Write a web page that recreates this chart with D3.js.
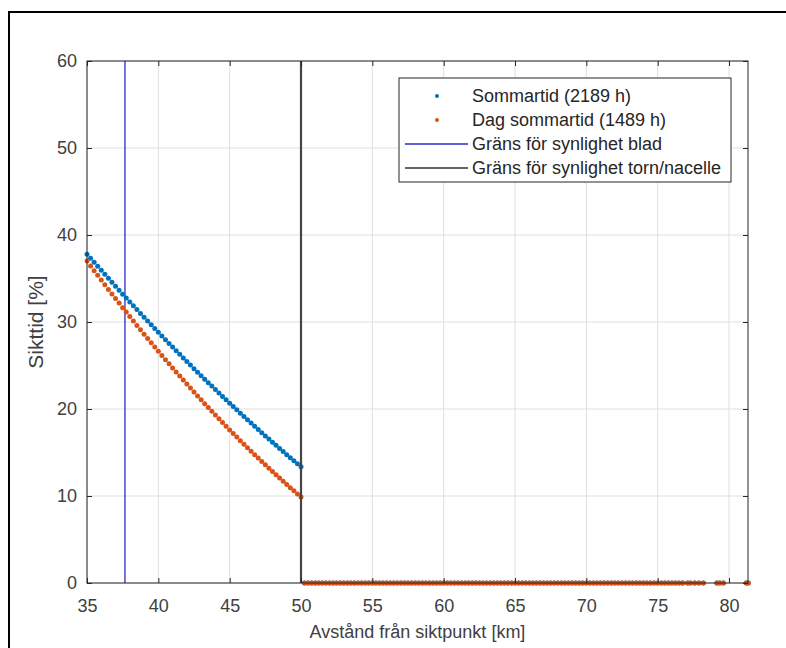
<!DOCTYPE html>
<html><head><meta charset="utf-8">
<script src="https://cdn.jsdelivr.net/npm/d3@7"></script>
<style>body{margin:0;background:#fff}svg{display:block}text{font-family:"Liberation Sans",Arial,sans-serif}</style>
</head><body><svg id="c" width="786" height="648"></svg>
<script>
const xTicks=[35,40,45,50,55,60,65,70,75,80];
const yTicks=[0,10,20,30,40,50,60];
const dist=[35,35.25,35.5,35.75,36,36.25,36.5,36.75,37,37.25,37.5,37.75,38,38.25,38.5,38.75,39,39.25,39.5,39.75,40,40.25,40.5,40.75,41,41.25,41.5,41.75,42,42.25,42.5,42.75,43,43.25,43.5,43.75,44,44.25,44.5,44.75,45,45.25,45.5,45.75,46,46.25,46.5,46.75,47,47.25,47.5,47.75,48,48.25,48.5,48.75,49,49.25,49.5,49.75,50];
const sommartid=[37.80,37.33,36.86,36.40,35.94,35.48,35.02,34.56,34.11,33.66,33.20,32.76,32.31,31.87,31.43,30.99,30.55,30.11,29.68,29.25,28.82,28.39,27.97,27.54,27.12,26.70,26.29,25.87,25.46,25.05,24.64,24.23,23.83,23.43,23.03,22.63,22.23,21.84,21.45,21.06,20.67,20.29,19.90,19.52,19.14,18.76,18.39,18.02,17.65,17.28,16.91,16.54,16.18,15.82,15.46,15.11,14.75,14.40,14.05,13.70,13.36];
const dagSommartid=[37.00,36.45,35.90,35.36,34.82,34.29,33.75,33.22,32.70,32.17,31.65,31.14,30.62,30.11,29.61,29.10,28.60,28.11,27.61,27.12,26.64,26.15,25.67,25.20,24.72,24.25,23.79,23.32,22.86,22.41,21.95,21.50,21.06,20.61,20.17,19.74,19.30,18.87,18.44,18.02,17.60,17.18,16.77,16.36,15.95,15.55,15.15,14.75,14.36,13.97,13.58,13.19,12.81,12.44,12.06,11.69,11.32,10.96,10.60,10.24,9.89];
const tailDist=[50.25,50.5,50.75,51,51.25,51.5,51.75,52,52.25,52.5,52.75,53,53.25,53.5,53.75,54,54.25,54.5,54.75,55,55.25,55.5,55.75,56,56.25,56.5,56.75,57,57.25,57.5,57.75,58,58.25,58.5,58.75,59,59.25,59.5,59.75,60,60.25,60.5,60.75,61,61.25,61.5,61.75,62,62.25,62.5,62.75,63,63.25,63.5,63.75,64,64.25,64.5,64.75,65,65.25,65.5,65.75,66,66.25,66.5,66.75,67,67.25,67.5,67.75,68,68.25,68.5,68.75,69,69.25,69.5,69.75,70,70.25,70.5,70.75,71,71.25,71.5,71.75,72,72.25,72.5,72.75,73,73.25,73.5,73.75,74,74.25,74.5,74.75,75,75.25,75.5,75.75,76,76.25,76.5,76.75,77.1,77.3,77.6,77.9,78.2,79.15,79.35,79.6,81.2,81.35];
const tailValue=tailDist.map(()=>0);
const gransBlad=37.66, gransTorn=50;
const legendLabels=["Sommartid (2189 h)","Dag sommartid (1489 h)","Gräns för synlighet blad","Gräns för synlighet torn/nacelle"];
const blue="#0072BD", orange="#D95319";

const svg=d3.select("#c");
svg.append("rect").attr("x",9).attr("y",12).attr("width",820).attr("height",700).attr("fill","none").attr("stroke","#000").attr("stroke-width",2);
const L=87,R=748,T=61,B=583;
const x=d3.scaleLinear().domain([35,81.33]).range([L,R]);
const y=d3.scaleLinear().domain([0,60]).range([B,T]);
const g=svg.append("g");
g.selectAll(".gx").data(xTicks).join("line").attr("x1",d=>x(d)).attr("x2",d=>x(d)).attr("y1",T).attr("y2",B).attr("stroke","#dfdfdf").attr("stroke-width",1);
g.selectAll(".gy").data(yTicks).join("line").attr("y1",d=>y(d)).attr("y2",d=>y(d)).attr("x1",L).attr("x2",R).attr("stroke","#dfdfdf").attr("stroke-width",1);
svg.append("clipPath").attr("id","cp").append("rect").attr("x",L-4).attr("y",T).attr("width",R-L+8).attr("height",B-T+4);
const d1=dist.map((d,i)=>[d,sommartid[i]]).concat(tailDist.map((d,i)=>[d,tailValue[i]]));
const d2=dist.map((d,i)=>[d,dagSommartid[i]]).concat(tailDist.map((d,i)=>[d,tailValue[i]]));
const pg=svg.append("g").attr("clip-path","url(#cp)");
pg.append("line").attr("x1",x(gransBlad)).attr("x2",x(gransBlad)).attr("y1",T).attr("y2",B).attr("stroke","#2a2acc").attr("stroke-width",1.3);
pg.selectAll(".b").data(d1).join("circle").attr("cx",d=>x(d[0])).attr("cy",d=>y(d[1])).attr("r",2.5).attr("fill",blue);
pg.selectAll(".o").data(d2).join("circle").attr("cx",d=>x(d[0])).attr("cy",d=>y(d[1])).attr("r",2.5).attr("fill",orange);
pg.append("line").attr("x1",x(gransTorn)).attr("x2",x(gransTorn)).attr("y1",T).attr("y2",B).attr("stroke","#454545").attr("stroke-width",2.2);
const ax="#262626";
svg.append("rect").attr("x",L).attr("y",T).attr("width",R-L).attr("height",B-T).attr("fill","none").attr("stroke",ax).attr("stroke-width",1);
const xb=d3.axisBottom(x).tickValues(xTicks).tickSizeInner(-5).tickSizeOuter(0).tickPadding(16);
const xt=d3.axisTop(x).tickValues(xTicks).tickSizeInner(-5).tickSizeOuter(0).tickFormat("");
const yl=d3.axisLeft(y).tickValues(yTicks).tickSizeInner(-5).tickSizeOuter(0).tickPadding(10);
const yr=d3.axisRight(y).tickValues(yTicks).tickSizeInner(-5).tickSizeOuter(0).tickFormat("");
function style(sel){sel.select(".domain").remove();sel.selectAll("line").attr("stroke",ax);sel.selectAll("text").attr("fill","#404040").style("font-size","18px").style("font-family","'Liberation Sans',Arial,sans-serif");}
svg.append("g").attr("transform",`translate(0,${B})`).call(xb).call(style);
svg.append("g").attr("transform",`translate(0,${T})`).call(xt).call(style);
svg.append("g").attr("transform",`translate(${L},0)`).call(yl).call(style);
svg.append("g").attr("transform",`translate(${R},0)`).call(yr).call(style);
svg.append("text").attr("x",(L+R)/2).attr("y",638).attr("text-anchor","middle").attr("fill","#404040").style("font-size","18px").text("Avstånd från siktpunkt [km]");
svg.append("text").attr("transform",`translate(43,${(T+B)/2}) rotate(-90)`).attr("text-anchor","middle").attr("fill","#404040").style("font-size","21px").text("Sikttid [%]");
const lg=svg.append("g");
lg.append("rect").attr("x",399).attr("y",78).attr("width",332).attr("height",104).attr("fill","#fff").attr("stroke",ax).attr("stroke-width",1);
const rows=[96,120,144,168];
legendLabels.forEach((t,i)=>{
  lg.append("text").attr("x",472).attr("y",rows[i]).attr("dy","0.35em").attr("fill","#262626").style("font-size","18px").text(t);
});
lg.append("circle").attr("cx",437).attr("cy",rows[0]).attr("r",2).attr("fill",blue);
lg.append("circle").attr("cx",437).attr("cy",rows[1]).attr("r",2).attr("fill",orange);
lg.append("line").attr("x1",405).attr("x2",468).attr("y1",rows[2]).attr("y2",rows[2]).attr("stroke","#2a2acc").attr("stroke-width",1.3);
lg.append("line").attr("x1",405).attr("x2",468).attr("y1",rows[3]).attr("y2",rows[3]).attr("stroke","#333").attr("stroke-width",1.3);
</script></body></html>
